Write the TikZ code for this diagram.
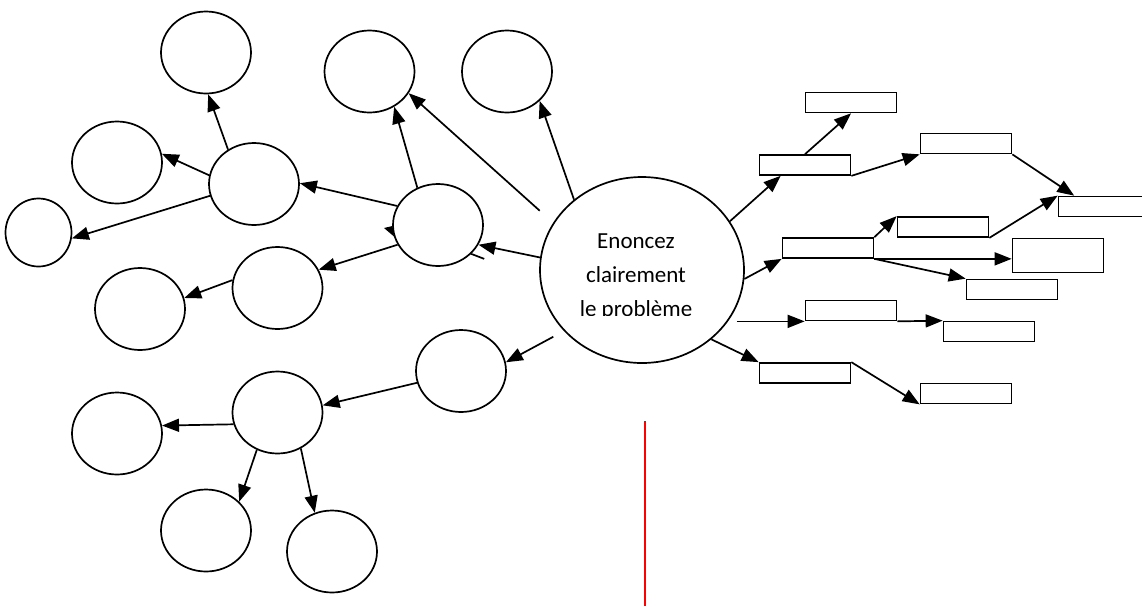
\documentclass[tikz,border=0pt]{standalone}
\usepackage{fontspec}
\setmainfont{Carlito}
\usetikzlibrary{arrows.meta,shapes.geometric}

\begin{document}
\begin{tikzpicture}[x=1pt,y=-1pt,
      bubble/.style={
        ellipse, draw, fill=white, line width=1.7pt,
        inner sep=0pt, minimum width=90pt, minimum height=82pt
      },
      slot/.style={
        rectangle, draw, fill=white, line width=1.7pt,
        inner sep=0pt, minimum width=91pt, minimum height=20pt
      },
      arr/.style={-{Triangle[length=17pt,width=13pt]}, line width=1.7pt}
    ]
      \useasboundingbox (0,0) rectangle (1142,606);

      % bulles de gauche
      \foreach \n/\x/\y in {b1/206/52.5,b2/369.5/71.5,b3/507/71.5,b4/117/162.5,
          b5/254/184,b7/438/225,b8/277.5/288,b9/140/309,b10/461/371,
          b11/277.5/412.5,b12/117/433.5,b13/206/530.5,b14/332/551.5} {
        \node[bubble] (\n) at (\x,\y){};
      }
      \node[bubble, minimum width=66pt, minimum height=68pt] (b6) at (38.5,232.5){};
      \node[bubble, minimum width=204pt, minimum height=186pt] (pb) at (642,270){};

      % cases de droite
      \foreach \n/\x/\y in {r1/851/102.5,r2/805/165,r3/966/143.5,r4/1104/206.5,
          r5/943/227,r6/828/248,r8/1012/289.5,r9/851/310.5,r10/989/331.5,
          r11/805/373,r12/966/393.5} {
        \node[slot] (\n) at (\x,\y){};
      }
      \node[slot, minimum height=34pt] (r7) at (1058,255.5){};

      \begin{scope}
        \clip (560,200) rectangle (720,315);
        \node[align=center, font=\fontsize{23}{34}\selectfont] (txt) at (636,277)
          {Enoncez\\clairement\\le problème};
      \end{scope}

      \foreach \a/\b in {b5.127/b1.-87,b5.169/b4.11,b5.195/b6.350,b7.155/b5.1,
          b7.119/b2.-55,pb.134/b3.-42,pb.173/b7.-26,b7.206/b8.24,b8.170/b9.14,
          b10.195/b11.9,b11.195/b12.10,b11.241/b13.41,b11.-57/b14.114} {
        \draw[arr] (\a) -- (\b);
      }
      \draw[arr, shorten <=18pt] (pb.152) -- (b2.-29);
      \draw[arr, shorten <=12pt] (pb.218) -- (b10.11);

      \foreach \a/\b in {pb.29/r2.204,pb.-5/r6.south west,pb.-45/r11.north west,
          r2.north/r1.south,r2.south east/r3.south west,r3.south east/r4.160,
          r5.south east/r4.north west,r6.north east/r5.north west,
          r6.south east/r8.north west,r9.south east/r10.north west,
          r11.north east/r12.south west} {
        \draw[arr] (\a) -- (\b);
      }
      \draw[arr] (r6.south east) -- (r6.south east -| r7.west);
      \draw[arr, shorten <=6pt] (r9.south west -| pb.-28) -- (r9.south west);

      % restes
      \draw[line width=1.7pt] (b7.-41) -- ++(13,5);
      \fill (384,228) -- (392.5,226) -- (394,236.5) -- cycle;
      \draw[red, line width=1.5pt] (645,421) -- (645,606);
    \end{tikzpicture}
\end{document}
